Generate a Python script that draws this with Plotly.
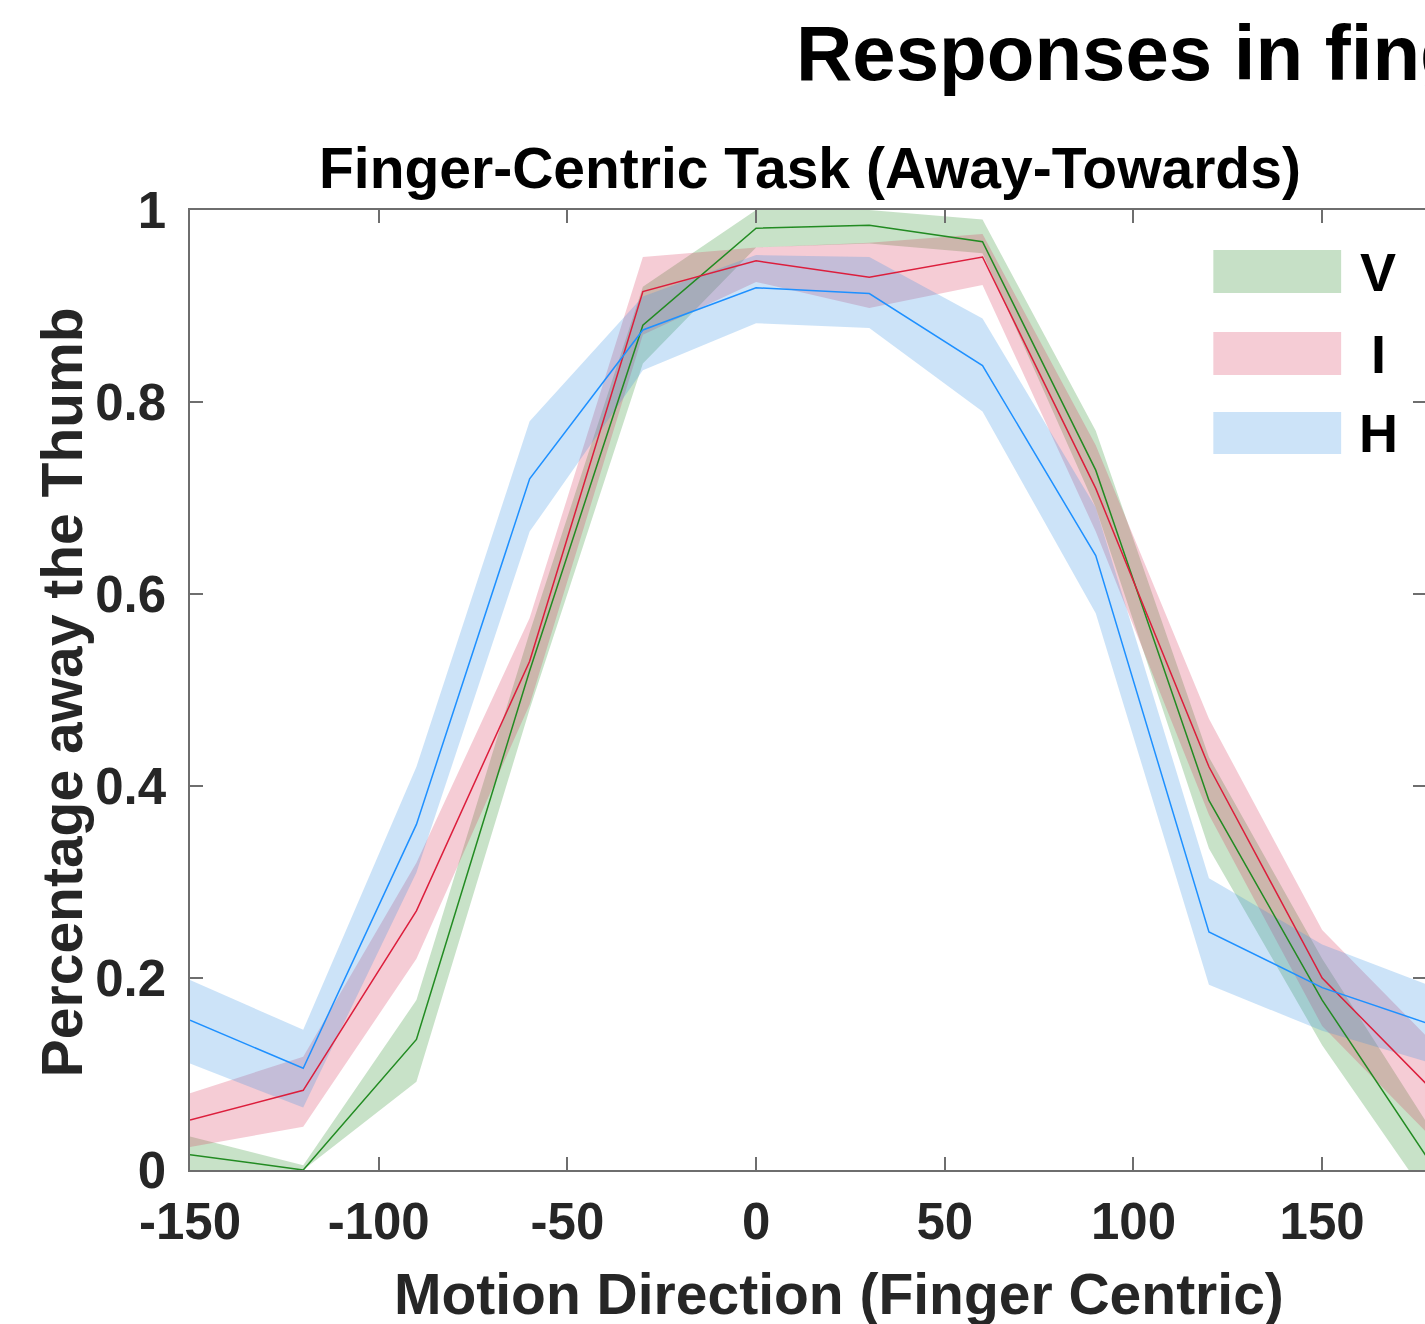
import plotly.graph_objects as go

# ---- data ----
directions = [-150, -120, -90, -60, -30, 0, 30, 60, 90, 120, 150, 180]

v_mean  = [0.016, 0.000, 0.136, 0.520, 0.880, 0.981, 0.984, 0.967, 0.729, 0.385, 0.177, 0.000]
v_upper = [0.035, 0.005, 0.177, 0.560, 0.920, 1.000, 1.000, 0.990, 0.770, 0.430, 0.220, 0.035]
v_lower = [0.000, 0.000, 0.092, 0.480, 0.840, 0.961, 0.965, 0.955, 0.690, 0.335, 0.130, -0.040]

i_mean  = [0.052, 0.083, 0.270, 0.530, 0.915, 0.947, 0.930, 0.951, 0.710, 0.420, 0.200, 0.080]
i_upper = [0.080, 0.118, 0.320, 0.575, 0.951, 0.961, 0.966, 0.975, 0.755, 0.470, 0.250, 0.130]
i_lower = [0.024, 0.045, 0.220, 0.485, 0.870, 0.925, 0.898, 0.922, 0.665, 0.370, 0.150, 0.030]

h_mean  = [0.156, 0.106, 0.360, 0.720, 0.875, 0.919, 0.913, 0.838, 0.640, 0.248, 0.190, 0.150]
h_upper = [0.198, 0.146, 0.420, 0.780, 0.910, 0.953, 0.951, 0.887, 0.690, 0.304, 0.235, 0.190]
h_lower = [0.111, 0.065, 0.310, 0.665, 0.833, 0.882, 0.877, 0.790, 0.580, 0.193, 0.145, 0.110]

series_names = ["V", "I", "H"]
x_ticks = [-150, -100, -50, 0, 50, 100, 150]
x_tick_text = ["-150", "-100", "-50", "0", "50", "100", "150"]
y_ticks = [0, 0.2, 0.4, 0.6, 0.8, 1]
y_tick_text = ["0", "0.2", "0.4", "0.6", "0.8", "1"]

# ---- styles ----
FONT = "Liberation Sans, Arial, Helvetica, sans-serif"
line_colors = ["rgb(34,139,34)", "rgb(220,30,60)", "rgb(30,144,255)"]
fill_colors = ["rgba(34,139,34,0.25)", "rgba(215,51,87,0.25)", "rgba(51,143,227,0.25)"]
legend_colors = ["rgb(198,224,198)", "rgb(245,204,213)", "rgb(204,227,248)"]

W, H = 1428, 1324
L, R, T, B = 190, 0, 210, 154
pw = W - L - R
px_per_unit = (1324 - 190) / 300.0
x_max = -150 + pw / px_per_unit

fig = go.Figure()
means = [v_mean, i_mean, h_mean]
uppers = [v_upper, i_upper, h_upper]
lowers = [v_lower, i_lower, h_lower]

for k in range(3):
    fig.add_trace(go.Scatter(
        x=directions + directions[::-1],
        y=uppers[k] + lowers[k][::-1],
        fill="toself", fillcolor=fill_colors[k],
        line=dict(width=0), mode="lines",
        name=series_names[k], showlegend=False, hoverinfo="skip"))
for k in range(3):
    fig.add_trace(go.Scatter(
        x=directions, y=means[k], mode="lines",
        line=dict(color=line_colors[k], width=1.5),
        name=series_names[k], showlegend=False))

axis_common = dict(
    showgrid=False, zeroline=False, showline=True, linecolor="#6e6e6e", linewidth=1.5,
    mirror="ticks", ticks="inside", ticklen=13, tickwidth=1.5, tickcolor="#6e6e6e",
    tickfont=dict(family=FONT, size=51, color="#262626", weight="bold"),
)
fig.update_layout(
    width=W, height=H,
    margin=dict(l=L, r=R, t=T, b=B, pad=0),
    paper_bgcolor="white", plot_bgcolor="white",
    showlegend=False,
    xaxis=dict(range=[-150, x_max], tickvals=x_ticks, ticktext=x_tick_text,
               ticklabelstandoff=6, **axis_common),
    yaxis=dict(range=[0, 1], tickvals=y_ticks, ticktext=y_tick_text,
               ticklabelstandoff=12, **axis_common),
)

def px2paper_x(p):
    return (p - L) / pw

def px2paper_y(p):
    return (H - B - p) / (H - T - B)

annos = []
# main (cropped) title
annos.append(dict(text="<b>Responses in finger-centric task</b>", x=px2paper_x(795), y=px2paper_y(53),
                  xref="paper", yref="paper", xanchor="left", yanchor="middle", showarrow=False,
                  font=dict(family=FONT, size=78, color="black")))
# subplot title
annos.append(dict(text="<b>Finger-Centric Task (Away-Towards)</b>", x=px2paper_x(811), y=px2paper_y(168),
                  xref="paper", yref="paper", xanchor="center", yanchor="middle", showarrow=False,
                  font=dict(family=FONT, size=57, color="black")))
# x title
annos.append(dict(text="<b>Motion Direction (Finger Centric)</b>", x=px2paper_x(840), y=px2paper_y(1294),
                  xref="paper", yref="paper", xanchor="center", yanchor="middle", showarrow=False,
                  font=dict(family=FONT, size=57, color="#262626")))
# y title
annos.append(dict(text="<b>Percentage away the Thumb</b>", x=px2paper_x(62), y=px2paper_y(692),
                  xref="paper", yref="paper", xanchor="center", yanchor="middle", showarrow=False,
                  textangle=-90, font=dict(family=FONT, size=57, color="#262626")))

shapes = []
legend_rows = [(250, 293), (332, 375), (412, 454)]
for k in range(3):
    y0, y1 = legend_rows[k]
    shapes.append(dict(type="rect", xref="paper", yref="paper",
                       x0=px2paper_x(1215), x1=px2paper_x(1343),
                       y0=px2paper_y(y1), y1=px2paper_y(y0),
                       fillcolor=legend_colors[k], line=dict(width=0), layer="above"))
    annos.append(dict(text="<b>" + series_names[k] + "</b>", x=px2paper_x(1380), y=px2paper_y((y0 + y1) / 2),
                      xref="paper", yref="paper", xanchor="center", yanchor="middle", showarrow=False,
                      font=dict(family=FONT, size=54, color="black")))

fig.update_layout(annotations=annos, shapes=shapes)
fig.write_html("out.html", config={"displayModeBar": False},
               post_script="document.body.style.margin='0';document.body.style.overflow='hidden';")
